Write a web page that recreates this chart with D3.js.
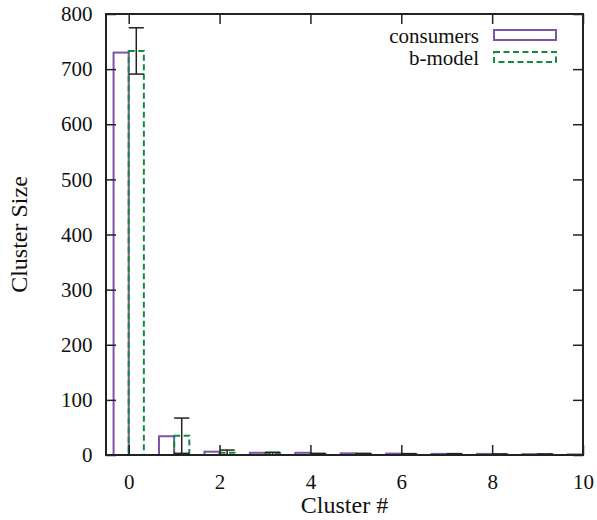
<!DOCTYPE html>
<html>
<head>
<meta charset="utf-8">
<script src="https://cdn.jsdelivr.net/npm/d3@7"></script>
<style>
  body { margin: 0; background: #fff; }
  text { font-family: "Liberation Serif", "Times New Roman", serif; fill: #111; }
</style>
</head>
<body>
<div id="chart"></div>
<script>
// data

const clusters = [0, 1, 2, 3, 4, 5, 6, 7, 8, 9, 10]
const consumers = [730, 34, 6, 4, 4, 3, 2.5, 2, 2, 1.5, 1]
const bModel = [733, 35, 4, 3, 2, 2, 1.5, 1.5, 1, 1, 1]
const bModelErr = [42, 32, 5, 2, 1, 1, 1, 1, 1, 1, 1]
const xTicks = [0, 2, 4, 6, 8, 10]
const yTicks = [0, 100, 200, 300, 400, 500, 600, 700, 800]

// constants

const width = 597
const height = 520
const margin = {top: 14, bottom: 65, left: 106, right: 14}

const purple = "#8052a8"
const green = "#138a3c"
const dash = "6,3.5"
const barW = 1 / 3

const svg = d3.select("#chart")
  .append("svg")
  .attr("width", width)
  .attr("height", height)

// scales

const xScale = d3.scaleLinear()
  .domain([-0.5, 10])
  .range([margin.left, width - margin.right])

const yScale = d3.scaleLinear()
  .domain([0, 800])
  .range([height - margin.bottom, margin.top])

const x0 = margin.left, x1 = width - margin.right
const y0 = height - margin.bottom, y1 = margin.top

svg.append("clipPath")
  .attr("id", "plot")
  .append("rect")
  .attr("x", x0).attr("y", y1)
  .attr("width", x1 - x0).attr("height", y0 - y1)

const plot = svg.append("g").attr("clip-path", "url(#plot)")

// bars

plot.selectAll(".cons")
  .data(clusters)
  .join("rect")
  .attr("class", "cons")
  .attr("x", d => xScale(d - barW))
  .attr("width", d => xScale(d) - xScale(d - barW))
  .attr("y", (d, i) => yScale(consumers[i]))
  .attr("height", (d, i) => yScale(0) - yScale(consumers[i]))
  .attr("fill", "none")
  .attr("stroke", purple)
  .attr("stroke-width", 2)

plot.selectAll(".bmod")
  .data(clusters)
  .join("rect")
  .attr("class", "bmod")
  .attr("x", d => xScale(d))
  .attr("width", d => xScale(d + barW) - xScale(d))
  .attr("y", (d, i) => yScale(bModel[i]))
  .attr("height", (d, i) => yScale(0) - yScale(bModel[i]))
  .attr("fill", "none")
  .attr("stroke", green)
  .attr("stroke-width", 2)
  .attr("stroke-dasharray", dash)

// error bars on b-model

const err = plot.selectAll(".err")
  .data(clusters)
  .join("g")
  .attr("class", "err")
  .attr("stroke", "#222")
  .attr("stroke-width", 1.5)

err.append("line")
  .attr("x1", d => xScale(d + barW / 2))
  .attr("x2", d => xScale(d + barW / 2))
  .attr("y1", (d, i) => yScale(bModel[i] + bModelErr[i]))
  .attr("y2", (d, i) => yScale(Math.max(0, bModel[i] - bModelErr[i])))

err.append("line")
  .attr("x1", d => xScale(d))
  .attr("x2", d => xScale(d + barW))
  .attr("y1", (d, i) => yScale(bModel[i] + bModelErr[i]))
  .attr("y2", (d, i) => yScale(bModel[i] + bModelErr[i]))

err.filter((d, i) => bModel[i] - bModelErr[i] > 0)
  .append("line")
  .attr("x1", d => xScale(d))
  .attr("x2", d => xScale(d + barW))
  .attr("y1", (d, i) => yScale(bModel[i] - bModelErr[i]))
  .attr("y2", (d, i) => yScale(bModel[i] - bModelErr[i]))

// axes (ticks inward, mirrored)

const tick = 10

const xAxisB = d3.axisBottom(xScale).tickValues(xTicks).tickSize(-tick).tickPadding(19)
const xAxisT = d3.axisTop(xScale).tickValues(xTicks).tickSize(-tick).tickFormat("")
const yAxisL = d3.axisLeft(yScale).tickValues(yTicks).tickSize(-tick).tickPadding(13.5)
const yAxisR = d3.axisRight(yScale).tickValues(yTicks).tickSize(-tick).tickFormat("")

const axes = [
  svg.append("g").attr("transform", `translate(0,${y0})`).call(xAxisB),
  svg.append("g").attr("transform", `translate(0,${y1})`).call(xAxisT),
  svg.append("g").attr("transform", `translate(${x0},0)`).call(yAxisL),
  svg.append("g").attr("transform", `translate(${x1},0)`).call(yAxisR)
]
axes.forEach(g => {
  g.select(".domain").remove()
  g.selectAll(".tick line").attr("stroke", "#222").attr("stroke-width", 1.5)
  g.selectAll(".tick text")
    .style("font-family", "'Liberation Serif', serif")
    .style("font-size", "21px")
    .attr("fill", "#111")
})

svg.append("rect")
  .attr("x", x0).attr("y", y1)
  .attr("width", x1 - x0).attr("height", y0 - y1)
  .attr("fill", "none")
  .attr("stroke", "#222")
  .attr("stroke-width", 2)

// axis titles

svg.append("text")
  .attr("x", (x0 + x1) / 2)
  .attr("y", height - 7)
  .attr("text-anchor", "middle")
  .attr("font-size", 24)
  .text("Cluster #")

svg.append("text")
  .attr("transform", `translate(27,${(y0 + y1) / 2}) rotate(-90)`)
  .attr("text-anchor", "middle")
  .attr("font-size", 24)
  .text("Cluster Size")

// legend

const legend = [
  {label: "consumers", color: purple, dash: null},
  {label: "b-model", color: green, dash: dash}
]

const lg = svg.selectAll(".legend")
  .data(legend)
  .join("g")
  .attr("class", "legend")
  .attr("transform", (d, i) => `translate(0,${30 + i * 22})`)

lg.append("text")
  .attr("x", 479)
  .attr("y", 13)
  .attr("text-anchor", "end")
  .attr("font-size", 21)
  .text(d => d.label)

lg.append("rect")
  .attr("x", 494).attr("y", 0)
  .attr("width", 62).attr("height", 10)
  .attr("fill", "none")
  .attr("stroke", d => d.color)
  .attr("stroke-width", 2)
  .attr("stroke-dasharray", d => d.dash)
</script>
</body>
</html>
